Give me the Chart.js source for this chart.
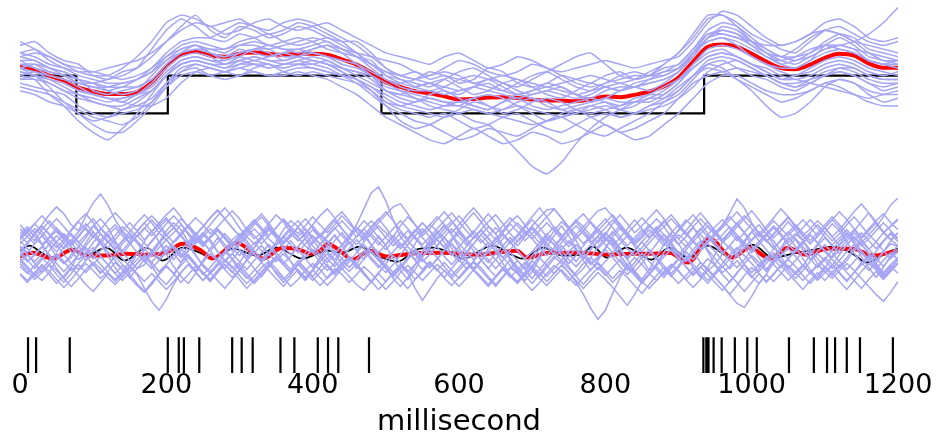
<!DOCTYPE html>
<html>
<head>
<meta charset="utf-8">
<script src="https://cdn.jsdelivr.net/npm/chart.js@4.4.1/dist/chart.umd.min.js"></script>
<style>
  html, body { margin: 0; padding: 0; background: #ffffff; }
  #wrap { width: 945px; height: 438px; position: relative; }
</style>
</head>
<body>
<div id="wrap"><canvas id="chart"></canvas></div>
<script>
// ---------------- data ----------------
// sampling interval of the smoothed rate traces and of the field traces (ms)
const RATE_DT = 20;
const FIELD_DT = 10;

// stimulus on/off sequence (step function)
const stimTimes  = [0, 77, 202, 494, 935, 1200];
const stimLevels = [1, 0, 1, 0, 1, 1];

// trial-averaged rate (one value every RATE_DT ms)
const rateMean = [
  1.24,1.16,1.00,0.87,0.68,0.58,0.51,0.51,0.57,0.82,
  1.24,1.55,1.64,1.53,1.50,1.58,1.61,1.58,1.55,1.58,
  1.58,1.55,1.43,1.29,1.08,0.82,0.70,0.59,0.53,0.45,
  0.37,0.38,0.42,0.43,0.41,0.36,0.34,0.34,0.32,0.38,
  0.45,0.43,0.49,0.58,0.71,0.95,1.37,1.76,1.82,1.76,
  1.58,1.37,1.20,1.17,1.29,1.47,1.58,1.53,1.32,1.21,1.21
];

// single-trial rates
const rateTrial01 = [1.8,1.9,1.6,1.4,1.3,1.0,0.9,1.1,1.2,1.5, 1.9,2.3,2.6,2.2,2.0,2.3,2.2,2.0,2.1,2.3, 2.2,2.0,1.9,1.9,1.6,1.2,1.0,1.1,0.9,1.0, 0.8,0.9,1.2,1.1,0.8,0.7,0.8,1.0,0.9,0.8, 1.0,1.1,0.9,1.0,1.3,1.6,2.0,2.5,2.6,2.4, 2.1,1.9,1.7,1.6,1.9,2.2,2.3,2.1,1.9,1.8,1.9];
const rateTrial02 = [0.8,0.7,0.6,0.5,0.2,0.0,-0.1,0.0,0.1,0.3, 0.7,1.0,1.1,1.0,1.1,1.0,1.2,1.3,1.1,1.0, 1.1,1.0,0.9,0.8,0.6,0.3,0.1,0.0,-0.1,0.0, -0.2,-0.4,-0.3,-0.1,0.0,-0.2,-0.4,-0.5,-0.3,-0.1, 0.0,-0.1,0.0,0.2,0.3,0.5,0.9,1.3,1.4,1.2, 1.0,0.9,0.7,0.6,0.8,1.0,1.1,1.0,0.8,0.6,0.7];
const rateTrial03 = [1.0,0.9,0.5,0.2,-0.2,-0.5,-0.7,-0.4,0.0,0.5, 1.0,1.4,1.5,1.4,1.3,1.5,1.7,1.6,1.4,1.5, 1.7,1.8,1.6,1.3,1.0,0.6,0.5,0.7,0.8,0.6, 0.5,0.7,0.9,0.8,0.6,0.5,0.6,0.7,0.5,0.3, 0.4,0.6,0.7,0.6,0.8,1.1,1.6,1.9,2.0,1.9, 1.7,1.5,1.3,1.4,1.5,1.7,1.8,1.7,1.4,1.3,1.4];
const rateTrial04 = [1.5,1.4,1.2,1.1,0.9,0.8,0.9,1.0,1.2,1.7, 2.2,2.5,2.3,2.0,1.9,2.1,2.0,1.8,1.9,2.0, 1.9,1.7,1.6,1.5,1.4,1.0,0.8,0.7,0.8,0.9, 0.7,0.5,0.6,0.8,0.9,0.7,0.5,0.4,0.6,0.8, 0.7,0.6,0.8,0.9,1.0,1.2,1.5,2.0,2.3,2.2, 1.9,1.6,1.3,1.2,1.4,1.8,2.0,1.8,1.5,1.4,1.3];
const rateTrial05 = [1.1,1.0,0.9,0.8,0.6,0.5,0.4,0.3,0.5,0.7, 1.1,1.4,1.5,1.4,1.4,1.5,1.4,1.5,1.6,1.5, 1.4,1.3,1.2,1.1,1.0,0.8,0.6,0.4,0.2,0.1, 0.0,-0.2,-0.3,-0.6,-1.0,-1.4,-1.6,-1.3,-0.8,-0.4, -0.1,0.1,0.3,0.5,0.7,0.9,1.2,1.5,1.6,1.5, 1.3,1.1,0.9,1.0,1.1,1.3,1.4,1.3,1.1,1.0,1.1];
const rateTrial06 = [1.3,1.3,1.1,1.0,0.8,0.7,0.6,0.7,0.7,0.9, 1.3,1.6,1.7,1.7,1.6,1.8,1.9,1.8,1.7,1.7, 1.8,1.9,1.7,1.5,1.2,0.9,0.8,0.9,1.1,1.0, 0.9,0.8,0.7,0.6,0.8,1.0,1.1,0.9,0.7,0.6, 0.7,0.8,0.7,0.9,1.1,1.3,1.7,2.1,2.1,2.0, 1.8,1.6,1.4,1.3,1.5,1.7,1.8,1.9,2.1,2.4,2.8];
const rateTrial07 = [0.9,0.9,0.8,0.6,0.5,0.3,0.2,0.2,0.4,0.6, 1.0,1.3,1.4,1.3,1.2,1.3,1.3,1.2,1.3,1.4, 1.3,1.2,1.0,0.8,0.5,0.2,0.0,-0.2,-0.3,-0.5, -0.7,-0.6,-0.4,-0.5,-0.6,-0.4,-0.2,-0.1,-0.3,-0.5, -0.6,-0.4,-0.2,0.0,0.3,0.6,1.0,1.4,1.5,1.4, 1.2,1.0,0.8,0.7,0.9,1.1,1.2,1.1,0.9,0.8,0.8];
const rateTrial08 = [1.6,1.5,1.3,1.2,1.0,0.9,0.8,0.8,0.9,1.1, 1.5,1.8,1.9,1.8,1.7,1.9,2.0,2.1,1.9,1.8, 1.9,2.0,1.8,1.6,1.3,1.0,0.9,0.8,0.7,0.9, 1.1,1.2,1.0,0.8,0.7,0.9,1.1,1.3,1.5,1.6, 1.3,1.0,0.9,1.0,1.2,1.3,1.7,2.2,2.4,2.3, 2.0,1.7,1.5,1.4,1.6,1.9,2.1,2.0,1.7,1.6,1.5];
const rateTrial09 = [0.7,0.6,0.5,0.3,0.1,-0.1,-0.2,-0.3,-0.1,0.3, 0.8,1.2,1.3,1.2,1.1,1.2,1.3,1.3,1.2,1.3, 1.3,1.4,1.2,1.0,0.8,0.6,0.5,0.4,0.3,0.2, 0.2,0.1,0.0,0.1,0.2,0.1,0.0,-0.1,0.0,0.1, 0.2,0.1,0.2,0.4,0.4,0.6,1.0,1.3,1.2,0.9, 0.6,0.2,-0.1,0.0,0.3,0.7,0.9,0.8,0.5,0.3,0.4];
const rateTrial10 = [1.4,1.2,1.1,1.0,0.9,0.8,0.6,0.5,0.6,1.0, 1.4,1.7,1.8,1.6,1.4,1.6,1.7,1.7,1.5,1.5, 1.6,1.5,1.3,1.2,1.0,0.7,0.6,0.5,0.4,0.3, 0.3,0.4,0.2,0.1,0.3,0.4,0.3,0.1,0.0,0.2, 0.3,0.2,0.4,0.5,0.5,0.8,1.3,1.7,1.8,1.7, 1.5,1.3,1.1,1.0,1.2,1.4,1.5,1.4,1.2,1.1,1.0];
const rateTrial11 = [1.2,1.3,1.2,1.0,0.8,0.8,0.7,0.7,0.9,1.2, 1.6,1.9,2.0,2.0,2.2,2.4,2.3,2.1,2.2,2.4, 2.3,2.1,1.9,1.6,1.3,1.1,1.0,0.9,0.8,0.7, 0.6,0.7,0.8,0.6,0.5,0.6,0.7,0.6,0.5,0.6, 0.8,0.9,1.0,1.0,1.1,1.2,1.6,2.0,2.2,2.1, 1.8,1.5,1.4,1.5,1.7,1.8,1.7,1.6,1.4,1.3,1.2];
const rateTrial12 = [1.0,1.1,0.9,0.7,0.5,0.4,0.3,0.4,0.5,0.6, 1.0,1.3,1.4,1.3,1.2,1.4,1.5,1.4,1.3,1.4, 1.5,1.4,1.2,1.1,0.9,0.6,0.4,0.3,0.5,0.6, 0.4,0.2,0.1,0.3,0.5,0.4,0.2,0.1,0.2,0.3, 0.4,0.3,0.3,0.4,0.6,0.9,1.3,1.6,1.7,1.5, 1.3,1.2,1.0,0.9,0.8,0.7,0.6,0.5,0.4,0.5,0.6];
const rateTrial13 = [1.9,1.7,1.4,1.2,1.1,1.1,1.0,0.9,1.0,1.2, 1.5,1.7,1.8,1.7,1.7,1.8,1.8,1.7,1.8,1.9, 2.0,1.9,1.7,1.5,1.3,1.1,0.9,0.7,0.6,0.7, 0.9,1.0,0.9,0.7,0.5,0.6,0.8,0.7,0.5,0.4, 0.6,0.7,0.7,0.8,0.9,1.1,1.6,2.1,2.2,2.1, 1.9,1.7,1.5,1.5,1.6,1.8,1.8,1.7,1.6,1.5,1.4];
const rateTrial14 = [1.1,1.0,0.8,0.6,0.4,0.3,0.2,0.1,0.3,0.6, 1.0,1.3,1.4,1.3,1.3,1.4,1.3,1.2,1.3,1.3, 1.2,1.1,1.0,0.9,0.7,0.4,0.2,0.1,0.0,-0.1, 0.0,0.1,0.0,-0.1,-0.2,-0.3,-0.2,0.0,0.1,-0.1, -0.3,-0.5,-0.4,-0.2,0.0,0.4,0.8,1.0,1.1,1.2, 1.1,1.0,0.8,0.7,0.8,1.0,1.2,1.2,1.0,0.9,0.9];
const rateTrial15 = [1.4,1.4,1.2,1.1,0.9,0.6,0.5,0.6,0.7,0.9, 1.3,1.6,1.8,1.6,1.5,1.7,1.6,1.5,1.6,1.7, 1.6,1.5,1.4,1.3,1.1,0.9,0.7,0.6,0.6,0.5, 0.6,0.7,0.6,0.5,0.4,0.5,0.6,0.5,0.4,0.5, 0.7,0.6,0.7,0.8,0.9,1.1,1.5,2.0,2.1,2.0, 1.9,1.8,1.8,1.9,2.1,2.2,2.1,1.9,1.6,1.4,1.4];
const rateTrial16 = [1.2,1.1,1.0,0.9,0.7,0.5,0.4,0.4,0.5,0.8, 1.2,1.5,1.6,1.5,1.3,1.4,1.5,1.4,1.4,1.5, 1.4,1.3,1.1,0.9,0.6,0.2,-0.2,-0.4,-0.3,-0.1, 0.1,0.3,0.2,0.0,0.1,0.3,0.4,0.3,0.1,0.0, 0.1,0.2,0.3,0.3,0.5,0.8,1.2,1.5,1.6,1.5, 1.3,1.1,0.9,0.9,1.0,1.2,1.3,1.2,1.0,0.9,0.9];
const rateTrial17 = [1.3,1.2,1.0,0.9,0.8,0.7,0.7,0.8,0.9,1.1, 1.4,1.6,1.7,1.6,1.5,1.6,1.7,1.8,1.7,1.6, 1.7,1.8,1.7,1.6,1.5,1.4,1.3,1.1,1.0,1.2, 1.4,1.3,1.1,1.0,1.1,1.3,1.2,1.0,0.8,0.7, 0.8,1.0,1.1,1.0,1.0,1.2,1.6,1.9,2.0,1.8, 1.5,1.3,1.2,1.2,1.4,1.6,1.7,1.6,1.4,1.3,1.3];
const rateTrial18 = [0.9,1.0,0.9,0.8,0.6,0.5,0.4,0.3,0.2,0.2, 0.4,0.8,1.1,1.2,1.1,1.2,1.1,1.0,1.1,1.2, 1.2,1.1,1.0,0.9,0.7,0.5,0.3,0.2,0.1,0.2, 0.3,0.2,0.1,0.3,0.4,0.2,0.1,0.2,0.3,0.4, 0.3,0.1,0.0,0.1,0.2,0.4,0.7,1.1,1.3,1.4, 1.2,1.0,0.8,0.8,0.9,1.0,1.1,1.0,0.8,0.7,0.8];
const rateTrial19 = [1.6,1.7,1.5,1.3,1.2,1.1,1.2,1.3,1.4,1.6, 1.9,2.2,2.4,2.3,2.1,2.2,2.4,2.5,2.3,2.2, 2.3,2.4,2.2,2.0,1.8,1.6,1.5,1.4,1.3,1.5, 1.6,1.4,1.2,1.3,1.5,1.4,1.2,1.1,1.2,1.3, 1.4,1.3,1.2,1.3,1.4,1.5,1.9,2.4,2.7,2.6, 2.3,2.0,1.8,1.9,2.1,2.4,2.5,2.3,2.0,1.9,2.0];
const rateTrial20 = [0.6,0.5,0.3,0.2,0.0,-0.2,-0.1,0.1,0.2,0.4, 0.8,1.1,1.2,1.0,0.9,1.0,1.1,1.0,1.0,1.1, 1.0,0.9,0.7,0.5,0.2,-0.1,-0.3,-0.5,-0.7,-0.8, -0.6,-0.4,-0.6,-0.8,-0.7,-0.5,-0.6,-0.8,-0.7,-0.5, -0.3,-0.5,-0.7,-0.6,-0.3,0.0,0.4,0.8,1.0,1.0, 0.8,0.6,0.5,0.5,0.6,0.8,0.9,0.8,0.6,0.5,0.5];
const rateTrial21 = [1.2,1.0,0.7,0.3,0.0,-0.3,-0.5,-0.5,-0.2,0.2, 0.7,1.1,1.3,1.2,1.1,1.3,1.4,1.3,1.2,1.3, 1.4,1.3,1.1,0.9,0.6,0.3,0.2,0.3,0.4,0.3, 0.2,0.4,0.5,0.4,0.2,0.0,-0.2,-0.1,0.1,0.2, 0.1,-0.1,0.0,0.2,0.4,0.7,1.0,1.2,1.1,0.9, 0.7,0.5,0.3,0.4,0.6,0.8,0.7,0.5,0.3,0.2,0.2];
const rateTrial22 = [1.5,1.6,1.5,1.3,1.1,1.0,1.0,1.2,1.5,1.9, 2.4,2.6,2.5,2.3,2.4,2.5,2.3,2.2,2.4,2.5, 2.4,2.2,2.0,1.8,1.5,1.2,1.0,0.9,1.0,1.1, 1.0,0.8,0.9,1.0,0.9,0.8,0.7,0.8,0.9,1.0, 0.9,0.8,0.9,1.1,1.3,1.6,2.1,2.6,2.6,2.3, 1.9,1.6,1.5,1.7,2.0,2.2,2.1,1.9,1.8,1.7,1.6];

// field potential: trial average (irregular samples) and fitted oscillation
const fieldMeanTimes  = [0,17,45,71,91,119,146,173,200,222, 246,263,296,318,332,359,382,396,410,421, 437,455,478,501,533,578,624,652,679,693, 724,761,806,833,865,888,913,943,973,997, 1025,1049,1075,1103,1138,1165,1200];
const fieldMeanValues = [-0.8,-0.4,-1.0,-0.1,-0.7,-0.7,-0.5,-0.6,-0.4,0.5, -0.1,-1.0,0.6,-0.4,-1.0,0.1,-0.1,-0.5,-0.2,0.5, -0.2,-1.1,-0.2,-0.8,-0.5,-0.4,-0.6,-0.4,-0.2,-0.9, -0.4,-0.4,-0.6,-0.5,-0.5,-0.4,-1.4,1.0,-0.9,0.1, -1.0,0.1,-0.6,0.0,0.0,-0.7,-0.2];
const fieldFitTimes  = [0,13,31,47,71,91,118,143,173,195, 222,246,263,291,324,351,386,410,419,441, 464,488,516,542,564,591,605,646,669,687, 715,742,765,783,802,829,863,888,913,940, 973,1001,1029,1056,1093,1111,1138,1157,1185,1200];
const fieldFitValues = [-0.2,0.3,-0.5,-0.9,0.0,-0.7,0.1,-1.2,0.1,-1.2, 0.1,-0.4,-1.0,0.0,-0.7,0.1,-1.0,-0.4,-0.2,-0.4, 0.2,-0.7,-1.3,-0.1,0.1,-0.5,-1.0,0.3,-0.5,-1.0, 0.1,-0.7,-0.6,0.2,-0.9,0.1,-1.1,0.1,-0.9,0.3, -0.9,0.4,-0.9,-0.5,0.0,0.2,-0.5,-1.4,-0.4,0.0];

// single-trial field potentials (one value every FIELD_DT ms)
const fieldTrial01 = [0.5,1.2,2.0,1.4,0.3,-0.8,-1.5,-0.9,0.2,1.1, 2.3,3.0,2.1,0.8,-0.4,-1.2,-2.0,-1.6,-0.5,0.6, 1.8,2.6,1.9,0.7,-0.6,-1.8,-2.5,-1.7,-0.3,0.9, 1.5,0.8,-0.2,-1.1,-0.4,0.7,1.9,2.8,2.2,1.0, -0.3,-1.4,-2.2,-1.5,-0.2,1.0,2.1,1.6,0.4,-0.9, -1.9,-2.7,-2.0,-0.8,0.5,1.6,2.4,1.8,0.6,-0.5, -1.3,-0.6,0.5,1.4,2.2,1.5,0.3,-0.9,-2.1,-2.8, -1.9,-0.6,0.7,1.8,2.7,2.0,0.8,-0.4,-1.5,-1.0, 0.1,1.2,2.0,1.3,0.2,-1.0,-2.2,-1.6,-0.4,0.8, 1.9,2.9,2.2,0.9,-0.3,-1.6,-2.4,-1.8,-0.5,0.6, 1.7,2.4,1.5,0.4,-0.8,-1.9,-2.6,-1.8,-0.6,0.5, 1.6,2.5,1.8,0.7,-0.5,-1.4,-2.2,-1.5,-0.3,0.8, 1.6];
const fieldTrial02 = [-1.0,-1.8,-2.6,-3.2,-2.4,-1.1,0.2,0.9,0.3,-0.7, -1.6,-2.4,-1.8,-0.6,0.5,1.3,0.6,-0.5,-1.7,-2.9, -3.6,-2.7,-1.4,-0.2,0.8,1.6,0.9,-0.3,-1.2,-2.0, -1.4,-0.3,0.6,-0.2,-1.3,-2.5,-3.4,-2.6,-1.5,-0.4, 0.7,1.5,0.8,-0.4,-1.6,-2.3,-1.5,-0.5,0.3,-0.6, -1.8,-3.0,-3.8,-2.9,-1.6,-0.3,0.9,1.7,1.1,0.0, -1.1,-2.0,-1.3,-0.2,0.6,-0.3,-1.5,-2.6,-3.3,-2.4, -1.2,0.0,1.0,0.4,-0.7,-1.8,-2.7,-2.0,-0.9,0.2, 1.1,0.5,-0.6,-1.7,-2.5,-3.4,-2.6,-1.5,-0.4,0.6, 1.4,0.8,-0.3,-1.4,-2.2,-1.6,-0.5,0.3,-0.5,-1.6, -2.8,-3.5,-2.6,-1.3,-0.1,0.9,1.5,0.8,-0.4,-1.5, -2.4,-1.7,-0.6,0.4,1.2,0.5,-0.6,-1.8,-2.7,-2.0, -1.0];
const fieldTrial03 = [1.5,2.2,1.6,2.4,3.4,4.2,3.5,2.4,1.8,3.3, 4.6,5.5,4.4,2.9,1.8,1.0,1.7,2.6,3.3,2.5, 1.4,0.6,1.3,2.3,3.1,2.4,1.5,2.2,3.0,3.8, 3.0,1.9,1.0,1.6,2.5,3.4,2.7,1.6,0.8,1.4, 2.4,3.3,4.0,3.1,2.0,1.2,1.9,2.8,2.1,1.1, 0.4,1.2,2.3,3.2,2.4,1.3,2.0,2.9,3.7,2.8, 1.7,0.9,1.6,2.6,3.5,2.6,1.5,0.7,1.4,2.3, 3.2,4.1,3.2,2.1,1.2,2.0,2.9,2.2,1.3,0.6, 1.4,2.5,3.4,2.5,1.6,2.3,3.1,3.9,3.0,1.9, 1.0,1.8,2.7,3.6,2.7,1.7,0.9,1.6,2.5,3.3, 2.5,1.5,2.2,3.1,4.0,3.2,2.1,1.3,2.0,2.8, 2.1,1.2,1.9,2.8,3.7,4.5,3.6,2.5,1.6,2.3, 3.0];
const fieldTrial04 = [-1.5,-2.3,-3.1,-2.4,-1.6,-2.2,-3.0,-3.8,-3.0,-2.1, -1.4,-2.0,-2.9,-3.6,-2.8,-1.9,-2.6,-4.0,-5.3,-6.2, -5.1,-3.6,-2.4,-1.6,-2.3,-3.2,-2.5,-1.7,-1.1,-1.8, -2.7,-3.5,-2.8,-1.9,-1.3,-2.0,-2.9,-3.8,-3.1,-2.2, -1.5,-2.1,-3.0,-2.3,-1.4,-0.8,-1.5,-2.4,-3.3,-4.1, -3.3,-2.4,-1.6,-2.2,-3.1,-2.4,-1.5,-2.1,-3.0,-3.7, -2.9,-2.0,-1.3,-1.9,-2.8,-3.6,-2.8,-1.9,-2.5,-3.4, -4.2,-3.4,-2.5,-1.7,-2.3,-3.2,-2.4,-1.5,-0.9,-1.6, -2.5,-3.4,-2.6,-1.8,-2.4,-3.3,-4.0,-3.2,-2.3,-1.6, -2.2,-3.1,-2.3,-1.4,-2.0,-2.9,-3.7,-4.6,-3.7,-2.7, -1.9,-2.5,-3.4,-2.6,-1.7,-1.1,-1.8,-2.7,-3.5,-2.7, -1.8,-2.4,-3.3,-4.1,-3.2,-2.3,-1.5,-2.1,-3.0,-2.2, -1.4];
const fieldTrial05 = [0.2,-0.6,-1.3,-0.5,0.5,1.3,0.6,-0.3,-1.1,-0.4, 0.6,1.5,0.8,-0.2,-1.0,-1.8,-1.1,-0.1,0.8,1.6, 0.9,0.0,-0.9,-0.2,0.7,1.4,0.7,-0.3,-1.2,-0.5, 0.4,1.2,2.0,1.2,0.2,-0.7,-1.5,-0.8,0.2,1.0, 0.3,-0.6,-1.4,-0.6,0.4,1.3,2.4,4.0,5.6,6.2, 4.8,2.9,1.2,0.2,-0.6,-1.3,-0.6,0.3,1.1,0.4, -0.5,-1.3,-2.0,-1.2,-0.3,0.6,1.4,0.7,-0.2,-1.0, -0.3,0.6,1.5,0.8,-0.2,-1.1,-1.8,-1.0,0.0,0.8, 1.6,0.9,-0.1,-0.9,-0.2,0.7,1.5,2.2,1.4,0.4, -0.5,-1.2,-0.5,0.5,1.3,0.6,-0.3,-1.2,-1.9,-1.1, -0.2,0.7,1.5,0.8,-0.2,-1.0,-0.3,0.6,1.4,0.6, -0.3,-1.1,-1.9,-1.2,-0.2,0.6,1.4,0.7,-0.2,-1.0, -0.3];
const fieldTrial06 = [1.0,1.8,2.5,1.7,0.8,0.1,0.9,1.9,2.8,3.5, 2.6,1.5,0.6,1.3,2.2,1.5,0.6,-0.1,0.7,1.6, 2.5,3.3,2.5,1.4,0.5,1.2,2.0,1.3,0.4,-0.2, 0.6,1.5,2.4,3.2,2.3,1.3,0.5,1.2,2.1,1.4, 0.5,1.3,2.2,3.0,3.7,2.8,1.7,0.8,1.5,2.3, 1.6,0.7,0.0,0.8,1.7,2.6,1.8,0.9,1.6,2.5, 3.3,2.4,1.4,0.6,1.3,2.1,1.4,0.5,1.2,2.1, 2.9,2.1,1.2,0.4,1.1,2.0,2.8,3.5,2.6,1.6, 0.8,1.5,2.3,1.5,0.6,1.3,2.2,3.0,2.2,1.2, 0.4,1.2,2.1,1.4,0.6,1.3,2.3,3.6,5.0,4.1, 2.6,1.4,0.7,1.4,2.3,3.1,2.3,1.3,0.5,1.2, 2.1,2.9,2.1,1.1,1.8,2.7,3.6,2.7,1.6,2.2, 2.9];
const fieldTrial07 = [-1.2,-2.0,-2.8,-2.1,-1.2,-0.5,-1.3,-2.2,-1.5,-0.6, 0.1,-0.7,-1.6,-2.5,-3.2,-2.4,-1.5,-0.8,-1.4,-2.3, -1.6,-0.7,0.0,-0.8,-1.7,-2.6,-1.9,-1.0,-0.3,-1.0, -1.9,-2.8,-3.5,-2.7,-1.7,-0.9,-1.6,-2.4,-1.6,-0.8, -0.1,-0.9,-1.8,-2.6,-1.8,-1.0,-1.7,-2.6,-3.4,-2.5, -1.5,-0.7,-1.4,-2.3,-1.6,-0.8,-0.1,-0.9,-1.8,-2.7, -1.9,-1.0,-0.3,-1.1,-2.0,-2.8,-2.0,-1.1,-1.8,-2.7, -3.5,-2.6,-1.6,-0.8,-1.5,-2.4,-3.4,-4.6,-6.0,-7.1, -6.2,-4.5,-2.9,-1.7,-0.9,-1.6,-2.5,-1.7,-0.8,-0.1, -0.9,-1.8,-2.7,-1.9,-1.0,-1.7,-2.6,-3.4,-2.5,-1.5, -0.7,-1.4,-2.3,-1.5,-0.6,0.0,-0.8,-1.7,-2.5,-1.7, -0.9,-1.6,-2.5,-3.3,-2.4,-1.4,-0.7,-1.5,-2.4,-1.6, -0.9];
const fieldTrial08 = [0.8,0.0,-0.7,0.2,1.1,1.8,1.0,0.1,-0.6,0.3, 1.2,2.0,1.2,0.3,-0.5,0.4,1.3,0.6,-0.3,-1.0, -0.2,0.7,1.6,2.4,1.5,0.6,-0.2,0.6,1.5,0.7, -0.1,-0.8,0.1,1.0,1.9,1.1,0.2,-0.6,0.2,1.1, 1.9,1.1,0.2,-0.5,0.3,1.2,2.1,1.3,0.4,-0.4, 0.4,1.3,0.5,-0.3,-1.1,-0.3,0.6,1.5,2.3,1.4, 0.5,-0.3,0.5,1.4,0.6,-0.2,-0.9,-0.1,0.8,1.7, 1.0,0.1,-0.7,0.1,1.0,1.9,2.7,1.8,0.8,0.0, 0.8,1.7,0.9,0.0,-0.7,0.1,1.0,1.8,1.0,0.1, -0.6,0.2,1.1,2.0,1.2,0.3,-0.5,0.3,1.2,0.4, -0.4,0.4,1.3,2.1,1.3,0.4,-0.3,0.5,1.4,0.6, -0.2,-0.9,-0.1,0.8,1.6,0.8,-0.1,0.7,1.6,0.9, 0.3];
const fieldTrial09 = [2.0,1.2,0.5,1.3,2.2,3.0,2.2,1.3,0.6,1.4, 2.3,1.5,0.7,0.0,0.8,1.7,2.6,3.4,2.6,1.6, 0.9,1.6,2.4,1.6,0.8,1.5,2.4,3.3,4.1,3.2, 2.1,1.2,0.5,1.2,2.1,1.3,0.5,1.3,2.2,3.0, 2.1,1.2,1.9,2.8,2.0,1.1,0.4,1.2,2.1,2.9, 3.7,2.8,1.8,1.0,1.8,2.6,1.8,0.9,0.2,1.0, 1.9,2.8,3.6,2.7,1.7,0.9,1.6,2.5,1.7,0.8, 1.5,2.4,3.2,4.0,3.1,2.0,1.1,1.8,2.7,1.9, 1.0,0.3,1.1,2.0,2.9,2.0,1.1,1.8,2.6,3.4, 2.5,1.5,0.7,1.5,2.3,1.5,0.6,1.3,2.2,3.0, 3.8,2.9,1.9,1.1,1.8,2.7,1.8,0.9,1.6,2.4, 1.6,0.8,1.5,2.4,3.2,2.3,1.4,2.2,3.2,4.4, 5.1];
const fieldTrial10 = [-2.5,-3.2,-2.4,-1.6,-2.3,-3.1,-3.9,-3.1,-2.2,-1.5, -2.2,-3.0,-2.3,-1.4,-2.1,-2.9,-3.7,-4.4,-3.6,-2.6, -1.8,-2.5,-3.4,-2.6,-1.8,-2.4,-3.2,-2.4,-1.6,-2.3, -3.1,-4.0,-3.2,-2.3,-1.6,-2.3,-3.1,-2.3,-1.5,-2.1, -2.9,-3.7,-2.9,-2.0,-2.6,-3.4,-2.6,-1.8,-2.5,-3.3, -4.1,-3.3,-2.4,-1.7,-2.4,-3.2,-2.4,-1.6,-2.2,-3.0, -3.8,-3.0,-2.1,-2.8,-3.6,-2.8,-1.9,-2.6,-3.4,-2.6, -1.8,-2.5,-3.3,-2.5,-1.7,-2.4,-3.2,-4.0,-3.2,-2.4, -3.1,-3.9,-4.8,-5.7,-4.6,-3.3,-2.5,-3.2,-2.4,-1.6, -2.3,-3.1,-3.9,-3.1,-2.2,-2.9,-3.7,-4.6,-5.5,-5.9, -4.8,-3.5,-2.6,-3.3,-2.5,-1.7,-2.4,-3.2,-2.4,-1.6, -2.3,-3.0,-2.2,-1.5,-2.2,-3.0,-3.8,-4.6,-5.3,-4.4, -3.3];
const fieldTrial11 = [-0.3,0.6,1.5,2.2,1.4,0.4,-0.6,-1.5,-2.1,-1.2, -0.2,0.8,1.7,2.4,1.6,0.6,-0.4,-1.3,-0.5,0.5, 1.4,2.1,1.3,0.3,-0.7,-1.6,-2.3,-1.5,-0.5,0.5, 1.3,0.5,-0.5,-1.4,-0.6,0.4,1.3,2.1,2.8,1.9, 0.9,-0.1,-1.0,-1.8,-1.0,0.0,0.9,0.1,-0.9,-1.7, -2.4,-1.6,-0.6,0.4,1.3,2.0,1.2,0.2,-0.8,-1.6, -0.8,0.2,1.1,1.9,1.1,0.1,-0.9,-1.7,-2.5,-1.7, -0.7,0.3,1.2,0.4,-0.6,-1.5,-0.7,0.3,1.2,2.0, 1.2,0.2,-0.8,-1.6,-2.3,-1.5,-0.5,0.5,1.4,0.6, -0.4,-1.3,-0.5,0.5,1.4,2.2,2.9,2.1,1.1,0.1, -0.9,-1.8,-1.0,0.0,0.9,1.7,0.9,-0.1,-1.0,-1.9, -1.1,-0.1,0.8,1.6,0.8,-0.2,-1.1,-0.3,0.7,1.5, 0.7];
const fieldTrial12 = [-0.5,-1.3,-0.6,0.2,-0.6,-1.5,-2.3,-1.5,-0.6,0.1, -0.7,-1.6,-2.4,-3.1,-2.3,-1.3,-0.5,-1.2,-2.0,-1.2, -0.4,0.3,-0.5,-1.4,-2.2,-1.4,-0.5,-1.3,-2.1,-2.9, -2.1,-1.2,-0.4,0.3,-0.5,-1.3,-0.5,-1.3,-2.2,-3.0, -2.2,-1.3,-0.5,-1.3,-2.1,-1.3,-0.4,0.4,-0.4,-1.2, -2.0,-2.8,-2.0,-1.1,-0.3,-1.1,-1.9,-1.1,-0.2,0.5, -0.3,-1.2,-2.0,-1.2,-0.3,-1.1,-2.0,-2.8,-3.5,-2.6, -1.7,-0.9,-1.7,-2.5,-1.7,-0.8,0.0,-0.8,-1.6,-0.8, -0.1,-0.9,-1.8,-2.6,-1.8,-0.9,-0.1,-0.9,-1.7,-2.5, -1.7,-0.8,-1.6,-2.4,-3.2,-2.4,-1.5,-0.6,0.1,-0.7, -1.5,-2.3,-1.5,-0.7,-1.4,-2.2,-3.0,-2.2,-1.3,-0.5, -1.2,-2.0,-1.2,-0.3,0.4,-0.4,-1.2,-2.0,-1.2,-0.4, -1.1];
const fieldTrial13 = [1.3,0.6,1.4,2.3,1.5,0.7,0.0,0.8,1.7,2.5, 1.7,0.8,0.1,0.9,1.8,2.6,1.8,0.9,1.7,2.6, 3.4,4.1,3.2,2.1,1.2,0.5,1.2,2.0,1.2,0.4, 1.1,1.9,2.7,1.9,1.0,0.3,1.1,1.9,1.1,0.3, -0.4,0.4,1.3,2.1,1.3,0.5,1.2,2.0,2.8,2.0, 1.1,0.3,1.0,1.8,1.0,0.2,-0.5,0.3,1.2,2.0, 1.2,0.4,1.1,1.9,2.7,3.4,2.5,1.5,0.7,1.4, 2.2,1.4,0.5,-0.2,0.6,1.5,2.3,1.5,0.6,1.3, 2.1,2.9,2.1,1.2,0.4,1.1,1.9,1.1,0.3,1.0, 1.8,2.6,3.4,2.5,1.5,0.7,1.4,2.2,1.4,0.6, -0.1,0.7,1.5,2.3,1.5,0.6,1.3,2.1,2.9,2.1, 1.2,0.4,1.1,1.9,1.1,0.3,1.0,1.8,2.6,1.8, 1.0];
const fieldTrial14 = [-0.8,0.4,1.6,0.5,-0.8,-2.0,-3.0,-1.9,-0.6,0.6, 1.7,0.6,-0.7,-1.9,-2.9,-1.8,-0.5,0.7,1.8,0.7, -0.6,-1.8,-2.8,-3.5,-2.5,-1.2,0.0,1.1,0.1,-1.1, -2.2,-1.1,0.1,1.3,2.2,1.2,-0.1,-1.3,-2.4,-3.2, -2.2,-0.9,0.3,1.4,0.4,-0.9,-2.0,-1.0,0.2,1.3, 0.3,-1.0,-2.2,-3.1,-2.1,-0.8,0.4,1.5,2.4,1.4, 0.1,-1.1,-2.2,-1.2,0.0,1.1,0.1,-1.2,-2.3,-3.2, -2.3,-1.0,0.2,1.3,2.3,1.3,0.0,-1.2,-2.2,-1.2, 0.0,1.1,0.1,-1.1,-2.2,-3.1,-2.1,-0.8,0.4,1.5, 0.5,-0.7,-1.9,-2.9,-1.9,-0.6,0.6,1.7,2.6,1.6, 0.3,-0.9,-2.1,-1.1,0.1,1.2,0.2,-1.0,-2.1,-3.0, -2.0,-0.8,0.4,1.5,0.5,-0.8,-1.9,-2.9,-1.9,-0.7, 0.4];
const fieldTrial15 = [0.9,1.6,0.8,1.9,2.8,2.0,1.1,0.3,1.2,2.1, 1.3,0.5,1.4,0.6,-0.2,0.7,1.8,2.6,1.7,2.4, 3.1,2.2,1.3,0.4,1.1,0.3,1.2,2.0,1.1,0.2, 0.9,1.8,2.7,3.5,2.6,1.5,0.7,1.5,0.8,1.6, 2.3,1.4,0.6,1.3,0.4,1.2,2.0,1.3,2.2,3.0, 2.1,1.0,0.2,1.0,1.9,1.1,0.3,1.1,2.0,2.8, 1.9,1.0,1.8,0.9,0.1,0.9,1.8,2.7,3.3,2.4, 1.4,0.6,1.4,2.2,1.4,0.5,1.3,0.5,1.3,2.2, 3.0,2.1,1.2,0.3,1.1,1.9,1.1,2.0,2.8,1.9, 1.0,0.2,1.0,1.9,2.7,1.8,0.9,1.7,0.8,1.6, 2.5,1.6,0.7,1.5,2.4,3.2,2.3,1.3,0.5,1.3, 2.1,1.2,0.3,1.1,1.9,1.0,1.8,2.6,1.7,0.9, 1.6];
const fieldTrial16 = [-1.4,-0.6,-1.5,-2.4,-1.6,-0.7,-1.5,-0.6,0.2,-0.7, -1.6,-2.5,-1.7,-0.8,-1.6,-2.3,-1.5,-0.6,-1.4,-0.5, 0.3,-0.5,-1.4,-0.6,-1.5,-2.4,-3.1,-2.2,-1.3,-0.5, -1.3,-2.1,-1.2,-0.4,0.4,-0.4,-1.3,-2.1,-1.2,-2.0, -2.8,-1.9,-1.0,-0.2,-1.0,-1.9,-1.1,-0.2,-1.1,-1.9, -1.1,-0.3,0.5,-0.3,-1.2,-2.1,-1.3,-2.1,-2.9,-2.0, -1.1,-0.3,-1.1,-0.2,-1.1,-2.0,-1.2,-0.4,-1.2,-2.1, -3.0,-2.1,-1.2,-0.4,-1.2,-0.3,0.4,-0.4,-1.3,-2.1, -1.3,-0.5,-1.3,-2.2,-1.4,-0.5,-1.3,-2.1,-2.9,-2.0, -1.1,-0.3,-1.1,-0.2,0.5,-0.3,-1.2,-2.0,-1.2,-2.1, -2.9,-2.0,-1.2,-0.4,-1.2,-2.0,-1.2,-0.3,-1.1,-0.3, 0.4,-0.4,-1.3,-2.1,-1.3,-0.4,-1.2,-2.0,-2.8,-1.9, -1.1];
const fieldTrial17 = [2.4,1.6,2.5,3.3,2.5,1.7,0.9,1.8,2.7,1.9, 1.1,1.9,2.8,3.6,2.8,1.9,1.2,2.0,2.9,2.1, 1.3,2.1,3.0,2.2,1.4,2.2,3.1,3.8,3.0,2.1, 1.3,2.1,2.9,2.1,1.3,2.1,3.0,2.2,1.5,2.3, 3.2,2.4,1.6,2.4,3.3,2.5,1.7,1.0,1.8,2.6, 3.4,4.2,4.5,3.5,2.4,1.6,2.4,3.2,2.4,1.6, 2.4,3.3,4.1,3.2,2.3,1.5,2.3,3.1,2.3,1.5, 2.3,3.1,3.9,4.0,3.1,2.2,1.4,2.2,3.0,3.8, 4.1,3.2,2.3,1.5,2.3,3.1,2.3,1.5,2.2,3.0, 2.2,1.4,2.2,3.0,2.2,1.4,2.1,2.9,3.7,2.8, 2.0,1.2,2.0,2.8,2.0,1.3,2.1,2.9,2.1,1.3, 2.1,2.9,3.7,2.9,2.0,1.2,2.0,2.8,3.5,2.6, 1.9];
const fieldTrial18 = [-2.6,-3.4,-2.6,-1.8,-2.6,-3.5,-2.7,-1.9,-2.7,-3.6, -4.3,-3.4,-2.5,-3.3,-2.5,-1.7,-2.5,-3.3,-2.5,-3.3, -4.1,-3.3,-2.4,-1.6,-2.4,-3.2,-2.4,-3.2,-4.0,-3.1, -2.2,-3.0,-2.2,-1.4,-2.2,-3.0,-3.8,-2.9,-2.1,-2.9, -2.1,-2.9,-3.7,-2.9,-2.0,-2.8,-3.6,-4.2,-3.3,-2.5, -3.3,-2.5,-1.7,-2.5,-4.0,-5.2,-4.1,-3.0,-2.2,-3.0, -2.2,-1.4,-2.2,-3.0,-3.8,-2.9,-2.1,-2.9,-2.1,-1.4, -2.2,-3.0,-3.7,-2.9,-2.1,-2.9,-3.7,-2.9,-2.1,-1.4, -2.2,-3.0,-2.2,-2.9,-3.7,-4.5,-3.6,-2.7,-1.9,-2.7, -3.5,-2.7,-1.9,-2.7,-3.5,-2.6,-1.8,-2.6,-3.4,-4.3, -3.4,-2.5,-3.3,-2.5,-1.7,-2.5,-3.3,-4.1,-3.2,-2.4, -3.2,-2.4,-1.6,-2.4,-3.2,-4.0,-3.1,-2.3,-3.1,-2.3, -1.5];
const fieldTrial19 = [0.3,-0.4,0.5,1.3,0.5,-0.3,0.6,1.5,0.7,-0.2, -1.0,-0.2,0.7,-0.1,0.8,1.6,0.8,0.0,-0.8,0.1, 0.9,0.1,-0.7,0.2,1.0,0.2,1.1,1.8,1.0,0.1, -0.7,0.2,-0.6,-1.3,-0.5,0.4,1.2,0.4,-0.4,0.5, 1.3,0.5,-0.3,-1.1,-0.2,0.6,-0.2,0.7,1.5,0.7, -0.1,0.8,1.6,0.8,0.0,-0.8,0.1,0.9,0.1,-0.7, 0.2,1.0,0.2,-0.6,-1.4,-0.5,0.3,1.1,0.3,1.2, 2.0,1.1,0.2,-0.6,0.3,-0.5,-1.3,-0.4,0.4,1.2, 0.4,-0.4,0.5,1.3,0.5,-0.3,0.6,1.4,0.6,-0.2, -1.0,-0.1,0.7,-0.1,0.8,1.6,0.8,0.0,-0.8,0.1, 0.9,1.7,0.9,0.1,-0.7,0.2,1.0,0.2,-0.6,0.3, 1.1,0.3,-0.5,0.4,1.2,0.4,-0.4,-1.2,-0.3,0.5, 0.2];
const fieldTrial20 = [-1.8,-2.5,-1.7,-0.9,-1.7,-2.6,-3.4,-2.5,-1.6,-2.4, -1.6,-0.8,-1.6,-2.5,-1.7,-2.6,-3.5,-4.3,-3.4,-2.5, -1.7,-2.5,-1.7,-0.9,-1.7,-2.5,-3.3,-2.4,-1.6,-2.4, -1.6,-2.5,-3.3,-2.4,-1.5,-0.8,-1.6,-2.4,-1.6,-2.4, -3.2,-2.4,-1.6,-2.4,-1.6,-0.9,-1.7,-2.5,-3.3,-2.4, -1.6,-2.4,-3.2,-4.0,-3.1,-2.2,-1.4,-2.2,-1.4,-2.2, -3.0,-2.2,-1.4,-2.2,-3.0,-3.8,-2.9,-2.0,-1.2,-2.0, -1.2,-2.0,-2.8,-2.0,-1.2,-2.0,-2.8,-3.6,-2.7,-1.9, -2.7,-1.9,-1.1,-1.9,-2.7,-3.5,-2.6,-1.8,-2.6,-1.8, -1.0,-1.8,-2.6,-1.8,-2.6,-3.4,-4.2,-3.3,-2.4,-1.6, -2.4,-1.6,-0.8,-1.6,-2.4,-3.2,-2.4,-1.6,-2.4,-3.2, -2.4,-1.6,-2.4,-3.2,-2.4,-1.6,-0.9,-1.7,-2.5,-1.7, -2.5];
const fieldTrial21 = [1.2,2.0,1.2,0.4,1.2,2.1,1.3,0.5,1.3,2.2, 3.0,2.1,1.3,2.1,1.3,0.5,1.3,2.1,1.3,2.1, 2.9,2.1,1.3,0.5,1.3,2.2,3.1,3.9,3.0,2.1, 1.3,2.1,1.3,0.5,1.3,2.1,2.9,2.0,1.2,2.0, 1.2,0.4,1.2,2.0,2.8,2.0,1.2,2.0,1.2,0.4, 1.2,2.0,2.8,2.0,1.2,0.4,1.2,2.0,2.8,3.6, 2.7,1.8,1.0,1.8,1.0,0.2,1.0,1.8,2.6,1.8, 1.0,1.8,2.6,1.8,1.0,0.2,1.0,1.8,1.0,1.8, 2.6,3.4,2.5,1.6,0.8,1.6,2.4,1.6,0.8,1.6, 2.4,1.6,0.8,0.0,0.8,1.6,2.4,3.2,2.4,1.6, 0.8,1.6,0.8,0.0,0.8,1.6,2.4,1.6,0.8,1.6, 2.4,3.2,2.4,1.6,0.8,1.6,0.8,0.0,0.8,1.6, 1.0];
const fieldTrial22 = [-0.2,-1.1,-2.0,-1.1,-0.2,0.7,1.5,0.6,-0.3,-1.2, -0.3,0.6,-0.3,-1.2,-2.1,-2.9,-2.0,-1.1,-0.2,0.7, -0.2,-1.1,-0.2,0.7,1.6,0.7,-0.2,-1.1,-2.0,-1.1, -0.2,-1.1,-2.0,-2.8,-1.9,-1.0,-0.1,0.8,-0.1,-1.0, -1.9,-1.0,-0.1,0.8,1.6,0.7,-0.2,-1.1,-0.2,-1.1, -2.0,-2.8,-1.9,-1.0,-0.1,-1.0,-1.9,-1.0,-0.1,0.8, 1.6,0.7,-0.2,-1.1,-2.0,-1.1,-0.2,0.7,-0.2,-1.1, -2.0,-2.8,-1.9,-1.0,-0.1,0.8,-0.1,-1.0,-0.1,0.8, 1.6,0.7,-0.2,-1.1,-0.2,0.7,-0.2,-1.1,-2.0,-2.8, -1.9,-1.0,-0.1,0.8,-0.1,-1.0,-1.9,-1.0,-0.1,0.8, 1.7,0.8,-0.1,-1.0,-1.9,-1.0,-0.1,0.8,-0.1,-1.0, -1.9,-2.7,-1.8,-0.9,0.0,0.9,0.0,-0.9,-1.8,-0.9, 0.0];

// spike times (ms)
const spikeTimes = [11,22,68,202,217,224,245,290,303,318,356,375,407,421,435,477,
                    934,938,941,948,959,977,994,1007,1051,1085,1103,1114,1130,1148,1193];

// x-axis tick labels
const xTickValues = [0,200,400,600,800,1000,1200];

// ---------------- layout & style ----------------
const rateTrials  = [rateTrial01,rateTrial02,rateTrial03,rateTrial04,rateTrial05,rateTrial06,rateTrial07,rateTrial08,rateTrial09,rateTrial10,rateTrial11,
                     rateTrial12,rateTrial13,rateTrial14,rateTrial15,rateTrial16,rateTrial17,rateTrial18,rateTrial19,rateTrial20,rateTrial21,rateTrial22];
const fieldTrials = [fieldTrial01,fieldTrial02,fieldTrial03,fieldTrial04,fieldTrial05,fieldTrial06,fieldTrial07,fieldTrial08,fieldTrial09,fieldTrial10,fieldTrial11,
                     fieldTrial12,fieldTrial13,fieldTrial14,fieldTrial15,fieldTrial16,fieldTrial17,fieldTrial18,fieldTrial19,fieldTrial20,fieldTrial21,fieldTrial22];

// vertical placement of each panel: canvas row of the value 0 and pixels per unit
const PANELS = {
  yRate:   { zeroPx: 112, unitPx: 38 },
  yField:  { zeroPx: 248, unitPx: 10 },
  yRaster: { zeroPx: 373, unitPx: 36 }
};

const TRIAL_COLOR = '#a5a5f5';
const MEAN_COLOR  = '#ff0000';
const FONT_FAMILY = "'DejaVu Sans', 'Bitstream Vera Sans', sans-serif";
const TICK_FONT  = { family: FONT_FAMILY, size: 27, lineHeight: 1 };
const TITLE_FONT = { family: FONT_FAMILY, size: 29, lineHeight: 1.07 };

const sampled = (vals, dt) => vals.map((v, i) => ({ x: i * dt, y: v }));
const paired  = (ts, vs) => ts.map((t, i) => ({ x: t, y: vs[i] }));

const datasets = [];
rateTrials.forEach(tr => datasets.push({
  data: sampled(tr, RATE_DT), yAxisID: 'yRate',
  borderColor: TRIAL_COLOR, borderWidth: 1.5, tension: 0.15
}));
fieldTrials.forEach(tr => datasets.push({
  data: sampled(tr, FIELD_DT), yAxisID: 'yField',
  borderColor: TRIAL_COLOR, borderWidth: 1.5, tension: 0
}));
datasets.push({
  data: sampled(rateMean, RATE_DT), yAxisID: 'yRate',
  borderColor: MEAN_COLOR, borderWidth: 4, cubicInterpolationMode: 'monotone'
});
datasets.push({
  data: paired(fieldMeanTimes, fieldMeanValues), yAxisID: 'yField',
  borderColor: MEAN_COLOR, borderWidth: 4, cubicInterpolationMode: 'monotone'
});
datasets.push({
  data: paired(stimTimes, stimLevels), yAxisID: 'yRate',
  borderColor: '#000000', borderWidth: 2.2, stepped: true
});
datasets.push({
  data: paired(fieldFitTimes, fieldFitValues), yAxisID: 'yField',
  borderColor: '#000000', borderWidth: 1.8, cubicInterpolationMode: 'monotone'
});
// spike raster: one vertical segment per spike, separated by gaps
const rasterPts = [];
spikeTimes.forEach(t => { rasterPts.push({ x: t, y: 0 }, { x: t, y: 1 }, { x: t, y: null }); });
datasets.push({
  data: rasterPts, yAxisID: 'yRaster', clip: false,
  borderColor: '#000000', borderWidth: 2.2, spanGaps: false, borderCapStyle: 'butt'
});

const hiddenY = { display: false, min: 0, max: 1 };

const chart = new Chart(document.getElementById('chart'), {
  type: 'line',
  data: { datasets },
  options: {
    responsive: true,
    maintainAspectRatio: false,
    animation: false,
    events: [],
    layout: { padding: { left: 20, right: 47, top: 0, bottom: 0 } },
    elements: { point: { radius: 0 }, line: { fill: false } },
    plugins: { legend: { display: false }, tooltip: { enabled: false } },
    scales: {
      x: {
        type: 'linear', min: 0, max: 1200,
        afterBuildTicks: s => { s.ticks = xTickValues.map(v => ({ value: v })); },
        grid: { display: false, drawTicks: false },
        border: { display: false },
        ticks: { color: '#000000', font: TICK_FONT, padding: 3, maxRotation: 0, autoSkip: false,
                 callback: v => String(v) },
        title: { display: true, text: 'millisecond', color: '#000000', font: TITLE_FONT, padding: { top: 4, bottom: 0 } }
      },
      yRate:   Object.assign({}, hiddenY),
      yField:  Object.assign({}, hiddenY),
      yRaster: Object.assign({}, hiddenY)
    }
  }
});

// map each hidden axis so that its panel lands on its rows of the canvas
function placePanels() {
  const a = chart.chartArea;
  Object.keys(PANELS).forEach(id => {
    const p = PANELS[id];
    chart.options.scales[id].max = (p.zeroPx - a.top) / p.unitPx;
    chart.options.scales[id].min = (p.zeroPx - a.bottom) / p.unitPx;
  });
  chart.update('none');
}
placePanels();
</script>
</body>
</html>
